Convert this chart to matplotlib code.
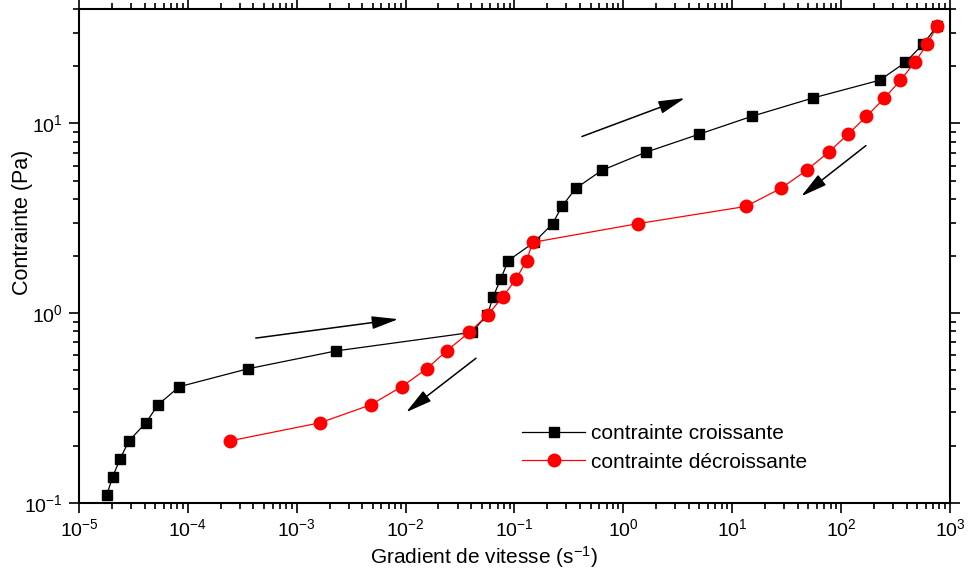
import matplotlib
matplotlib.use('Agg')
import matplotlib.pyplot as plt

plt.rcParams['font.family'] = ['Liberation Sans', 'DejaVu Sans']
plt.rcParams['mathtext.fontset'] = 'custom'
plt.rcParams['mathtext.rm'] = 'Liberation Sans'
plt.rcParams['mathtext.it'] = 'Liberation Sans'
plt.rcParams['mathtext.default'] = 'regular'
plt.rcParams['axes.unicode_minus'] = False

# contrainte croissante (carres noirs)
x_up = [1.80e-5, 2.04e-5, 2.39e-5, 2.88e-5, 4.12e-5, 5.31e-5, 8.33e-5, 3.54e-4,
        2.31e-3, 0.0404, 0.0564, 0.0637, 0.0750, 0.0875, 0.151, 0.224, 0.272,
        0.366, 0.635, 1.61, 4.97, 15.1, 54.6, 226, 390, 566, 760]
y_up = [0.110, 0.137, 0.171, 0.212, 0.264, 0.328, 0.409, 0.508, 0.632, 0.791,
        0.980, 1.22, 1.52, 1.89, 2.36, 2.96, 3.65, 4.55, 5.66, 7.05, 8.78,
        10.9, 13.6, 16.9, 21.0, 26.2, 32.6]

# contrainte decroissante (cercles rouges)
x_down = [760, 617, 475, 351, 250, 171, 116, 76.6, 48.1, 28.1, 13.3, 1.35,
          0.147, 0.129, 0.104, 0.0781, 0.0570, 0.0384, 0.0238, 0.0156,
          9.19e-3, 4.77e-3, 1.64e-3, 2.45e-4]
y_down = [32.6, 26.2, 21.0, 16.9, 13.6, 10.9, 8.78, 7.05, 5.66, 4.55, 3.65,
          2.96, 2.36, 1.89, 1.52, 1.22, 0.980, 0.791, 0.632, 0.508, 0.409,
          0.328, 0.264, 0.212]

# fleches (depart, arrivee)
arrows = [((4.2e-4, 0.738), (8.55e-3, 0.929)),
          ((0.0443, 0.578), (0.0101, 0.300)),
          ((0.416, 8.53), (3.67, 13.6)),
          ((169, 7.64), (43.0, 4.13))]

xticks = [1e-5, 1e-4, 1e-3, 1e-2, 1e-1, 1e0, 1e1, 1e2, 1e3]
yticks = [0.1, 1, 10]

fig = plt.figure(figsize=(9.68, 5.69), dpi=100)
ax = fig.add_axes([0.0816, 0.1165, 0.8998, 0.8672])

ax.plot(x_up, y_up, '-', color='black', lw=0.9, marker='s', ms=7.5,
        mec='black', mfc='black', label='contrainte croissante')
ax.plot(x_down, y_down, '-', color='red', lw=0.9, marker='o', ms=9,
        mec='red', mfc='red', label='contrainte décroissante')

for start, end in arrows:
    ax.annotate('', xy=end, xytext=start,
                arrowprops=dict(arrowstyle='-|>,head_length=0.9,head_width=0.22',
                                color='black', lw=1.1, mutation_scale=18,
                                shrinkA=0, shrinkB=0))

ax.set_xscale('log')
ax.set_yscale('log')
ax.set_xticks(xticks)
ax.set_yticks(yticks)
ax.set_xlim(1e-5, 1e3)
ax.set_ylim(0.1, 40)

for s in ax.spines.values():
    s.set_linewidth(1.5)

ax.tick_params(which='both', direction='out', top=True, right=True,
               labelsize=14, width=1.2)
ax.tick_params(which='major', length=7.5, pad=4)
ax.tick_params(which='minor', length=4)

ax.set_xlabel('Gradient de vitesse (s$^{-1}$)', fontsize=15)
ax.set_ylabel('Contrainte (Pa)', fontsize=15.5)
ax.xaxis.set_label_coords(0.465, -0.083)
ax.yaxis.set_label_coords(-0.053, 0.569)

ax.legend(loc='upper left', bbox_to_anchor=(0.497, 0.18), frameon=False,
          fontsize=15, handlelength=3.0, handletextpad=0.3,
          labelspacing=0.45, borderpad=0)

fig.savefig('out.png', dpi=100)
